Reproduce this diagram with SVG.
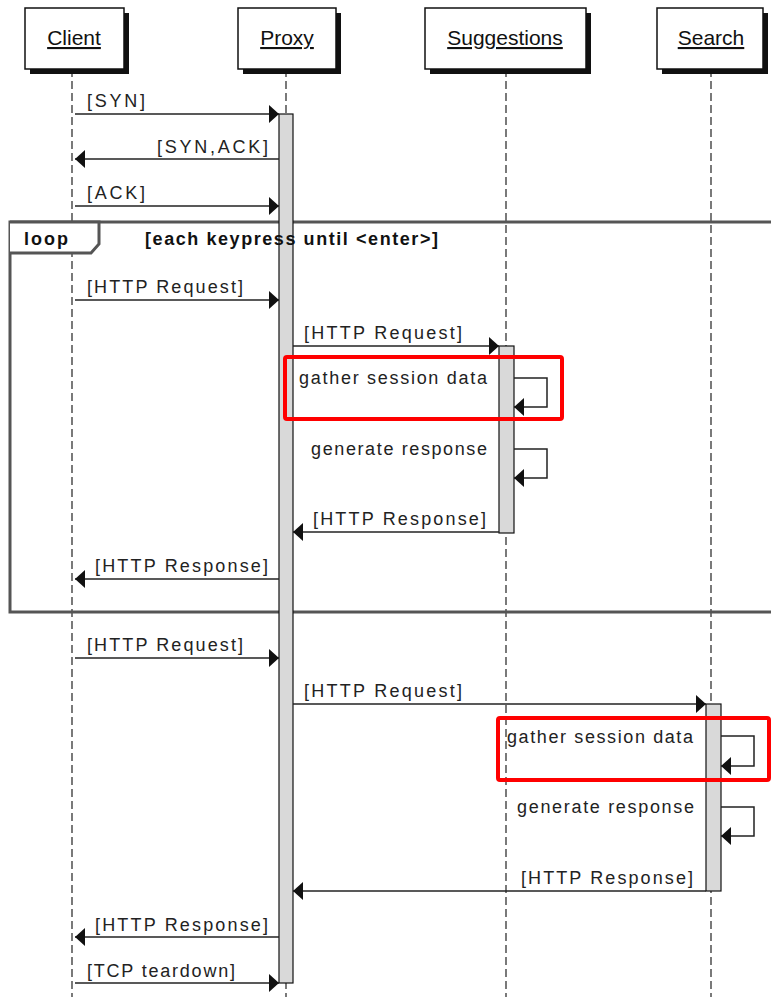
<svg xmlns="http://www.w3.org/2000/svg" width="771" height="997" viewBox="0 0 771 997">
<style>
.hdr{font-family:"Liberation Sans",Arial,sans-serif;font-size:21px;fill:#111;text-decoration:underline}
.lbl{font-family:"Liberation Sans",Arial,sans-serif;font-size:18px;fill:#222}
.bold{font-family:"Liberation Sans",Arial,sans-serif;font-size:18px;font-weight:bold;fill:#111}
.box{fill:#fff;stroke:#111;stroke-width:1.5}
.shadow{fill:#111}
.life{stroke:#222;stroke-width:1.2;stroke-dasharray:8 4;fill:none}
.act{fill:#d9d9d9;stroke:#111;stroke-width:1.2}
.msg{stroke:#222;stroke-width:1.5;fill:none}
.hl{fill:none;stroke:#ff0000;stroke-width:4;rx:2}
</style>
<defs>
<marker id="ah" markerWidth="10" markerHeight="18" refX="10" refY="9" orient="auto" markerUnits="userSpaceOnUse">
<path d="M0,0 L10,9 L0,18 Z" fill="#111"/>
</marker>
</defs>
<rect width="771" height="997" fill="#fff"/>

<g id="lifelines">
<line class="life" x1="72" y1="69" x2="72" y2="997"/>
<line class="life" x1="286" y1="69" x2="286" y2="997"/>
<line class="life" x1="506" y1="69" x2="506" y2="997"/>
<line class="life" x1="711" y1="69" x2="711" y2="997"/>
</g>

<g id="client">
<rect class="shadow" x="30" y="13" width="99" height="61"/>
<rect class="box" x="25" y="8" width="99" height="61"/>
<text class="hdr" x="74" y="45" text-anchor="middle">Client</text>
</g>
<g id="proxy">
<rect class="shadow" x="243" y="13" width="98" height="61"/>
<rect class="box" x="238" y="8" width="98" height="61"/>
<text class="hdr" x="287" y="45" text-anchor="middle">Proxy</text>
</g>
<g id="suggestions">
<rect class="shadow" x="430" y="13" width="161" height="61"/>
<rect class="box" x="425" y="8" width="161" height="61"/>
<text class="hdr" x="505" y="45" text-anchor="middle">Suggestions</text>
</g>
<g id="search">
<rect class="shadow" x="662" y="13" width="106" height="61"/>
<rect class="box" x="657" y="8" width="106" height="61"/>
<text class="hdr" x="711" y="45" text-anchor="middle">Search</text>
</g>

<g id="loop-frame">
<rect x="10" y="222" width="775" height="390" fill="none" stroke="#555" stroke-width="3"/>
<path d="M10,222 H99 V244 L91,253 H10" fill="#fff" stroke="#555" stroke-width="3"/>
</g>

<g id="activations">
<rect class="act" x="279" y="114" width="14" height="869"/>
<rect class="act" x="499" y="346" width="15" height="187"/>
<rect class="act" x="706" y="704" width="15" height="187"/>
</g>

<g id="loop-labels">
<text class="bold" x="24" y="245" textLength="44" lengthAdjust="spacing">loop</text>
<text class="bold" x="145" y="245" textLength="293" lengthAdjust="spacing">[each keypress until &lt;enter&gt;]</text>
</g>

<g id="connectors">
<line class="msg" x1="75" y1="114" x2="279" y2="114" marker-end="url(#ah)"/>
<line class="msg" x1="279" y1="159" x2="75" y2="159" marker-end="url(#ah)"/>
<line class="msg" x1="75" y1="206" x2="279" y2="206" marker-end="url(#ah)"/>
<line class="msg" x1="75" y1="300" x2="279" y2="300" marker-end="url(#ah)"/>
<line class="msg" x1="293" y1="346" x2="499" y2="346" marker-end="url(#ah)"/>
<path class="msg" d="M514,378 H547 V407 H514" marker-end="url(#ah)"/>
<path class="msg" d="M514,449 H547 V478 H514" marker-end="url(#ah)"/>
<line class="msg" x1="499" y1="532" x2="293" y2="532" marker-end="url(#ah)"/>
<line class="msg" x1="279" y1="579" x2="75" y2="579" marker-end="url(#ah)"/>
<line class="msg" x1="75" y1="658" x2="279" y2="658" marker-end="url(#ah)"/>
<line class="msg" x1="293" y1="704" x2="706" y2="704" marker-end="url(#ah)"/>
<path class="msg" d="M721,736 H754 V766 H721" marker-end="url(#ah)"/>
<path class="msg" d="M721,807 H754 V836 H721" marker-end="url(#ah)"/>
<line class="msg" x1="706" y1="891" x2="293" y2="891" marker-end="url(#ah)"/>
<line class="msg" x1="279" y1="937" x2="75" y2="937" marker-end="url(#ah)"/>
<line class="msg" x1="75" y1="983" x2="279" y2="983" marker-end="url(#ah)"/>
</g>

<g id="labels">
<text class="lbl" x="87" y="107" textLength="58" lengthAdjust="spacing">[SYN]</text>
<text class="lbl" x="157" y="153" textLength="111" lengthAdjust="spacing">[SYN,ACK]</text>
<text class="lbl" x="87" y="199" textLength="58" lengthAdjust="spacing">[ACK]</text>
<text class="lbl" x="87" y="293" textLength="156" lengthAdjust="spacing">[HTTP Request]</text>
<text class="lbl" x="304" y="339" textLength="158" lengthAdjust="spacing">[HTTP Request]</text>
<text class="lbl" x="299" y="384" textLength="188" lengthAdjust="spacing">gather session data</text>
<text class="lbl" x="311" y="455" textLength="176" lengthAdjust="spacing">generate response</text>
<text class="lbl" x="313" y="525" textLength="173" lengthAdjust="spacing">[HTTP Response]</text>
<text class="lbl" x="95" y="572" textLength="173" lengthAdjust="spacing">[HTTP Response]</text>
<text class="lbl" x="87" y="651" textLength="156" lengthAdjust="spacing">[HTTP Request]</text>
<text class="lbl" x="304" y="697" textLength="158" lengthAdjust="spacing">[HTTP Request]</text>
<text class="lbl" x="507" y="743" textLength="186" lengthAdjust="spacing">gather session data</text>
<text class="lbl" x="517" y="813" textLength="177" lengthAdjust="spacing">generate response</text>
<text class="lbl" x="521" y="884" textLength="172" lengthAdjust="spacing">[HTTP Response]</text>
<text class="lbl" x="95" y="931" textLength="173" lengthAdjust="spacing">[HTTP Response]</text>
<text class="lbl" x="87" y="977" textLength="148" lengthAdjust="spacing">[TCP teardown]</text>
</g>

<g id="highlights">
<rect class="hl" x="285" y="357" width="277" height="62"/>
<rect class="hl" x="498" y="718" width="271" height="62"/>
</g>
</svg>
